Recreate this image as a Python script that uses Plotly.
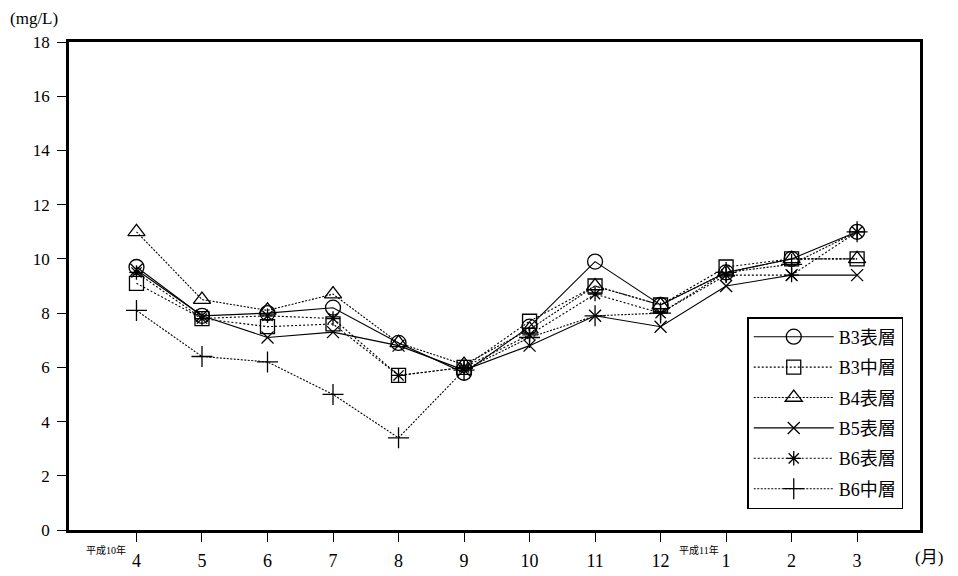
import plotly.graph_objects as go

months = ["4", "5", "6", "7", "8", "9", "10", "11", "12", "1", "2", "3"]

b3_surface = [9.7, 7.9, 8.0, 8.2, 6.9, 5.8, 7.5, 9.9, 8.3, 9.5, 10.0, 11.0]
b3_middle = [9.1, 7.8, 7.5, 7.6, 5.7, 6.0, 7.7, 9.0, 8.3, 9.7, 10.0, 10.0]
b4_surface = [11.0, 8.5, 8.1, 8.7, 6.9, 6.1, 7.4, 9.0, 8.3, 9.5, 10.0, 10.0]
b5_surface = [9.6, 7.9, 7.1, 7.3, 6.8, 5.9, 6.8, 7.9, 7.5, 9.0, 9.4, 9.4]
b6_surface = [9.5, 7.8, 7.9, 7.8, 5.7, 6.0, 7.2, 8.7, 8.0, 9.4, 9.4, 11.0]
b6_middle = [8.1, 6.4, 6.2, 5.0, 3.4, 5.9, 7.1, 7.9, 8.0, 9.5, 9.8, 11.0]

series_names = ["B3表層", "B3中層", "B4表層", "B5表層", "B6表層", "B6中層"]
yticks = [0, 2, 4, 6, 8, 10, 12, 14, 16, 18]

SERIF = "Liberation Serif, DejaVu Serif, serif"
CJK = "Liberation Serif, Noto Sans CJK JP, serif"

styles = [
    dict(symbol="circle-open", size=15, dash="solid"),
    dict(symbol="square-open", size=14, dash="2px,2px"),
    dict(symbol="triangle-up-open", size=15, dash="2px,1.5px"),
    dict(symbol="x-thin-open", size=12, dash="solid"),
    dict(symbol="asterisk-open", size=12, dash="2px,2px"),
    dict(symbol="cross-thin-open", size=15, dash="2px,1.5px"),
]
data = [b3_surface, b3_middle, b4_surface, b5_surface, b6_surface, b6_middle]

fig = go.Figure()
for i, (name, vals, st) in enumerate(zip(series_names, data, styles)):
    fig.add_trace(go.Scatter(
        x=months, y=vals, name=name, mode="lines+markers",
        legendgroup=f"g{i}",
        line=dict(color="black", width=1.1, dash=st["dash"]),
        marker=dict(symbol=st["symbol"], size=st["size"], color="black",
                    line=dict(color="black", width=1.3)),
    ))

fig.update_layout(
    width=958, height=576,
    margin=dict(l=61, r=46, t=34, b=54),
    paper_bgcolor="white", plot_bgcolor="white",
    font=dict(family=CJK, color="black", size=16),
    showlegend=True,
    legend=dict(
        x=0.797, y=0.043, xanchor="left", yanchor="bottom",
        bgcolor="white", bordercolor="black", borderwidth=1.5,
        font=dict(family=CJK, size=18, color="black"),
        itemwidth=80, tracegroupgap=4,
    ),
    xaxis=dict(
        type="category", categoryorder="array", categoryarray=months,
        range=[-1.03, 11.96],
        showgrid=False, zeroline=False,
        showline=True, linecolor="black", linewidth=2.5, mirror=True,
        ticks="outside", ticklen=9, tickwidth=1, tickcolor="black",
        ticklabelstandoff=4,
        tickfont=dict(family=SERIF, size=18, color="black"),
    ),
    yaxis=dict(
        range=[0, 18], tickvals=yticks, ticktext=[str(v) for v in yticks],
        showgrid=False, zeroline=False,
        showline=True, linecolor="black", linewidth=2.5, mirror=True,
        ticks="outside", ticklen=9, tickwidth=1, tickcolor="black",
        ticklabelstandoff=4,
        tickfont=dict(family=SERIF, size=17, color="black"),
    ),
    annotations=[
        dict(text="(mg/L)", xref="paper", yref="paper", x=-0.072, y=1.049,
             xanchor="left", yanchor="middle", showarrow=False,
             font=dict(family=SERIF, size=17)),
        dict(text="(月)", xref="paper", yref="paper", x=0.992, y=-0.057,
             xanchor="left", yanchor="middle", showarrow=False,
             font=dict(family=CJK, size=17)),
        dict(text="平成10年", xref="paper", yref="paper", x=0.069, y=-0.041,
             xanchor="right", yanchor="middle", showarrow=False,
             font=dict(family=CJK, size=10)),
        dict(text="平成11年", xref="paper", yref="paper", x=0.766, y=-0.041,
             xanchor="right", yanchor="middle", showarrow=False,
             font=dict(family=CJK, size=10)),
    ],
)

fig.write_html("out.html")
